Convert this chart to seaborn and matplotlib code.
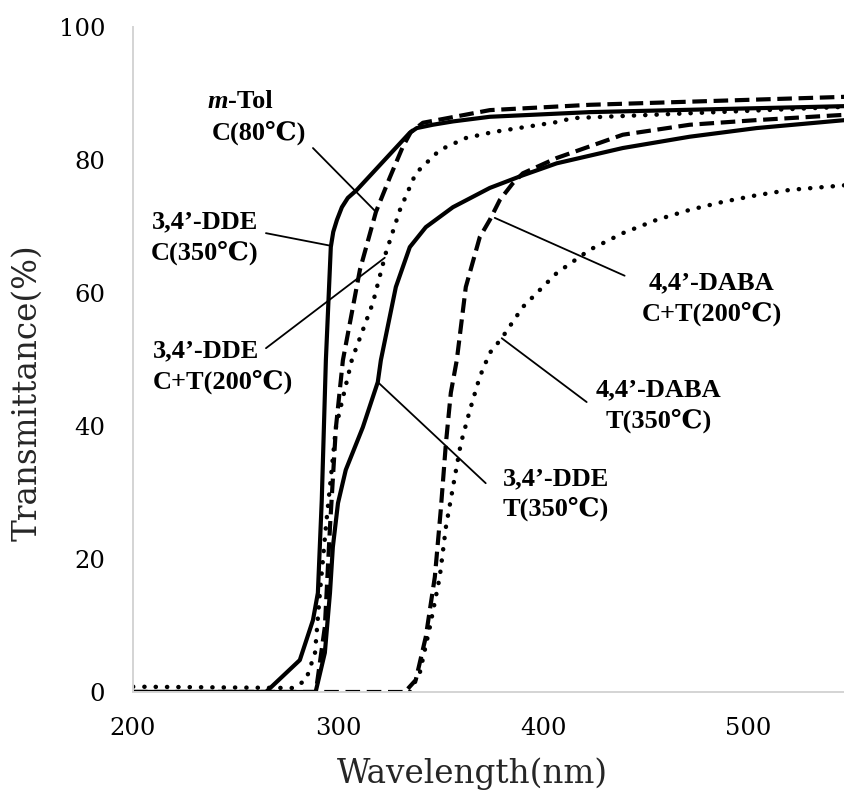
import matplotlib
matplotlib.use("Agg")
import matplotlib.pyplot as plt
import seaborn as sns
import pandas as pd

# wavelength (nm) / transmittance (%)
dde_c_wl = [200, 264.8, 281.3, 287.7, 290.1, 292, 294, 296.4, 297.6, 299.4, 301.8, 304.7, 309.1,
            334.9, 338.3, 346.1, 355.9, 373.9, 422.6, 547]
dde_c_t = [0, 0, 4.8, 10.8, 14.9, 28.9, 49.9, 66.9, 69.2, 71.0, 72.9, 74.3, 75.5,
           84.1, 84.8, 85.3, 85.8, 86.5, 87.2, 88.1]

mtol_wl = [200, 289.1, 293.5, 296, 298.9, 302.3, 310.6, 318.4, 325.2, 331.5, 335.4, 341.3, 373.9, 422.6, 547]
mtol_t = [0, 0, 9.8, 24.8, 39.8, 49.9, 63.5, 72.2, 77.4, 82.0, 84.2, 85.6, 87.5, 88.3, 89.5]

dde_ct_wl = [200, 278, 284.3, 288.7, 291.1, 294, 298.9, 306.7, 316.9, 323.2, 330.1, 337.8, 349.5, 362.2, 375.4, 406.5, 414.3, 547]
dde_ct_t = [0.8, 0.6, 1.8, 5.9, 14.9, 24.8, 39.8, 50, 58.5, 66, 72.5, 78, 81.5, 83.3, 84.2, 85.7, 86.3, 88]

dde_t_wl = [200, 289, 293.5, 296, 297.4, 299.9, 303.7, 312, 319.3, 320.8, 328.1, 334.9, 342.7, 355.9, 373.9, 390, 406.5, 438.7, 471.3, 503.9, 547]
dde_t_t = [0, 0, 5.9, 14.9, 21.8, 28.4, 33.4, 39.8, 46.6, 49.9, 60.9, 66.9, 69.9, 72.9, 75.8, 77.7, 79.5, 81.8, 83.5, 84.8, 86.0]

daba_ct_wl = [200, 332.5, 337.8, 342.7, 347.1, 350, 352.5, 354.9, 357.8, 362.2, 369, 373.9, 378.8, 385.1, 390, 406.5, 438.7, 471.3, 503.9, 547]
daba_ct_t = [0, 0, 1.8, 8.3, 17.3, 27.4, 37.4, 45, 49.9, 60.9, 68.4, 71, 74, 76.5, 78, 80.3, 83.8, 85.3, 86, 86.8]

daba_t_wl = [334.9, 339.8, 344.7, 349.5, 352.5, 356.8, 359.8, 364.2, 369, 373.9, 379.7, 390, 406.5, 422.6, 438.7, 455.2, 471.3, 487.4, 503.9, 520, 547]
daba_t_t = [0, 2.9, 9.8, 17.3, 24.8, 32.3, 37.4, 42.4, 47.4, 51, 53.2, 57.9, 63, 66.5, 69, 71, 72.5, 73.7, 74.7, 75.5, 76.2]

x_ticks = [200, 300, 400, 500]
y_ticks = [0, 20, 40, 60, 80, 100]

# label lines: (text, x, baseline y, ha)
label_lines = [
    ("C(80\u2103)", 238.5, 83.0, "left"),
    ("3,4\u2019-DDE", 235.1, 69.8, "center"),
    ("C(350\u2103)", 235.1, 65.1, "center"),
    ("3,4\u2019-DDE", 209.7, 50.4, "left"),
    ("C+T(200\u2103)", 209.7, 45.7, "left"),
    ("4,4\u2019-DABA", 482.0, 60.5, "center"),
    ("C+T(200\u2103)", 482.0, 55.8, "center"),
    ("4,4\u2019-DABA", 456.2, 44.5, "center"),
    ("T(350\u2103)", 456.2, 39.8, "center"),
    ("3,4\u2019-DDE", 406.0, 31.1, "center"),
    ("T(350\u2103)", 406.0, 26.5, "center"),
]
mtol_pos = (236.5, 87.8)

# leader lines: (x0, y0, x1, y1)
leaders = [
    (287.7, 81.8, 318.4, 72.2),
    (264.8, 69.0, 296.4, 67.1),
    (264.8, 51.7, 322.7, 65.3),
    (439.6, 62.6, 376.3, 71.3),
    (421.1, 43.6, 379.7, 53.2),
    (319.3, 46.6, 371.9, 31.4),
]

sns.set_theme(style="white")
plt.rcParams['font.family'] = ['DejaVu Serif']

W, H = 845, 793
fig = plt.figure(figsize=(W / 100, H / 100), dpi=100)
ax = fig.add_axes([133 / W, (H - 692) / H, (845 - 133) / W, (692 - 27) / H])

solid = dict(color="black", lw=3.0, solid_capstyle="round", solid_joinstyle="round")
dashed = dict(color="black", lw=3.0, linestyle=(0, (3.5, 1.6)), dash_capstyle="butt")
dotted = dict(color="black", lw=3.2, linestyle=(0, (0.05, 2.5)), dash_capstyle="round")

series = [
    (dde_c_wl, dde_c_t, solid),
    (dde_t_wl, dde_t_t, solid),
    (mtol_wl, mtol_t, dashed),
    (daba_ct_wl, daba_ct_t, dashed),
    (dde_ct_wl, dde_ct_t, dotted),
    (daba_t_wl, daba_t_t, dotted),
]
for wl, t, style in series:
    df = pd.DataFrame({"wl": wl, "t": t})
    sns.lineplot(data=df, x="wl", y="t", ax=ax, sort=False, estimator=None, **style)

ax.set_xlim(200, 547)
ax.set_ylim(0, 100)
ax.set_xticks(x_ticks)
ax.set_yticks(y_ticks)
ax.set_xlabel("")
ax.set_ylabel("")
ax.tick_params(axis="both", length=0, labelsize=17.5, colors="black")
ax.tick_params(axis="y", pad=20)
ax.tick_params(axis="x", pad=18)
for s in ["top", "right"]:
    ax.spines[s].set_visible(False)
for s in ["left", "bottom"]:
    ax.spines[s].set_color("#d4d4d4")
    ax.spines[s].set_linewidth(1.4)
ax.patch.set_alpha(0)

lab_font = dict(family=["Liberation Serif", "DejaVu Serif", "DejaVu Sans"],
                fontsize=19, fontweight="bold", color="black")
for txt, x, y, ha in label_lines:
    ax.text(x, y, txt, ha=ha, va="baseline", **lab_font)

m = ax.text(mtol_pos[0], mtol_pos[1], "m", ha="left", va="baseline",
            fontstyle="italic", **lab_font)
ax.annotate("-Tol", xy=(1, 0), xycoords=m, ha="left", va="bottom", **lab_font)

for x0, y0, x1, y1 in leaders:
    ax.annotate("", xy=(x1, y1), xytext=(x0, y0),
                arrowprops=dict(arrowstyle="-", color="black", lw=1.3,
                                shrinkA=0, shrinkB=0))

fig.text(472 / W, 10 / H, "Wavelength(nm)", ha="center", va="baseline", fontsize=23.5)
fig.text(27 / W, (H - 393) / H, "Transmittance(%)", ha="center", va="center",
         rotation=90, fontsize=23.5)

fig.savefig("out.png", dpi=100)
